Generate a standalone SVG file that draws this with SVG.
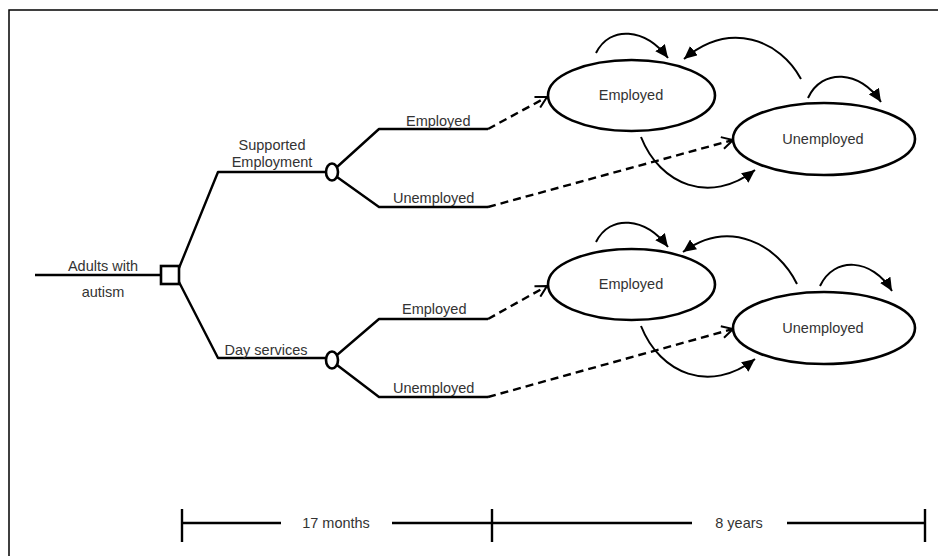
<svg xmlns="http://www.w3.org/2000/svg" width="938" height="556" viewBox="0 0 938 556">
<defs>
<style>
.ln{fill:none;stroke:#000;stroke-width:2.4;stroke-linejoin:round}
.ds{fill:none;stroke:#000;stroke-width:2.4;stroke-dasharray:8,5}
.cv{fill:none;stroke:#000;stroke-width:2}
.nd{fill:#fff;stroke:#000;stroke-width:2.6}
text{font-family:"Liberation Sans",Arial,sans-serif;font-size:14.5px;fill:#333}
.m{text-anchor:middle}
</style>
<marker id="fa" markerUnits="userSpaceOnUse" markerWidth="14" markerHeight="12" refX="13" refY="6" orient="auto">
<path d="M0,0 L13,6 L0,12 z" fill="#000"/>
</marker>
<marker id="oa" markerUnits="userSpaceOnUse" markerWidth="14" markerHeight="14" refX="12" refY="7" orient="auto">
<path d="M1,1 L12,7 L1,13" fill="none" stroke="#000" stroke-width="2"/>
</marker>
</defs>
<rect x="9" y="10" width="940" height="560" fill="#fff" stroke="#000" stroke-width="1.5"/>

<g id="connectors">
<path class="ln" d="M35,275 H161"/>
<path class="ln" d="M179,268 L218,172 H326"/>
<path class="ln" d="M179,282 L218,358 H326"/>
<path class="ln" d="M337,167 L379,129 H488"/>
<path class="ln" d="M337,177 L379,207 H488"/>
<path class="ln" d="M337,355 L379,319 H488"/>
<path class="ln" d="M337,365 L379,397 H488"/>
<path class="ds" d="M488,129 L547,97" marker-end="url(#oa)"/>
<path class="ds" d="M488,207 L733,140" marker-end="url(#oa)"/>
<path class="ds" d="M488,319 L547,286" marker-end="url(#oa)"/>
<path class="ds" d="M488,397 L733,329" marker-end="url(#oa)"/>
<path class="cv" d="M596,53 C610,25 645,28 668,58" marker-end="url(#fa)"/>
<path class="cv" d="M801,79 C780,40 730,20 684,59" marker-end="url(#fa)"/>
<path class="cv" d="M808,98 C822,68 860,70 881,102" marker-end="url(#fa)"/>
<path class="cv" d="M641,137 C660,185 710,205 755,170" marker-end="url(#fa)"/>
<path class="cv" d="M596,242 C610,214 645,217 668,247" marker-end="url(#fa)"/>
<path class="cv" d="M797,284 C778,245 730,218 683,252" marker-end="url(#fa)"/>
<path class="cv" d="M820,286 C834,256 872,258 892,291" marker-end="url(#fa)"/>
<path class="cv" d="M641,326 C660,374 710,394 755,359" marker-end="url(#fa)"/>
</g>

<g id="root">
<rect class="nd" x="161" y="266" width="18" height="18"/>
<text class="m" x="103" y="271">Adults with</text>
<text class="m" x="103" y="297">autism</text>
</g>

<g id="chance-se">
<ellipse class="nd" cx="332" cy="172" rx="6" ry="8.5"/>
<text class="m" x="272" y="150">Supported</text>
<text class="m" x="272" y="167">Employment</text>
<text x="406" y="126">Employed</text>
<text x="393" y="203">Unemployed</text>
</g>

<g id="chance-ds">
<ellipse class="nd" cx="332" cy="360" rx="6" ry="8.5"/>
<text class="m" x="266" y="355">Day services</text>
<text x="402" y="314">Employed</text>
<text x="393" y="393">Unemployed</text>
</g>

<g id="state-emp-1">
<ellipse class="nd" cx="631.5" cy="95.5" rx="83.5" ry="35.5"/>
<text class="m" x="631" y="100">Employed</text>
</g>
<g id="state-unemp-1">
<ellipse class="nd" cx="824" cy="139" rx="91" ry="36"/>
<text class="m" x="823" y="144">Unemployed</text>
</g>
<g id="state-emp-2">
<ellipse class="nd" cx="631.5" cy="284.5" rx="83.5" ry="35.5"/>
<text class="m" x="631" y="289">Employed</text>
</g>
<g id="state-unemp-2">
<ellipse class="nd" cx="824" cy="328" rx="91" ry="36"/>
<text class="m" x="823" y="333">Unemployed</text>
</g>

<g id="timeline">
<path class="ln" d="M182,509 V542 M925,509 V542 M492,509 V542 M182,523 H281 M392,523 H692 M787,523 H925"/>
<text class="m" x="336" y="528">17 months</text>
<text class="m" x="739" y="528">8 years</text>
</g>
</svg>
